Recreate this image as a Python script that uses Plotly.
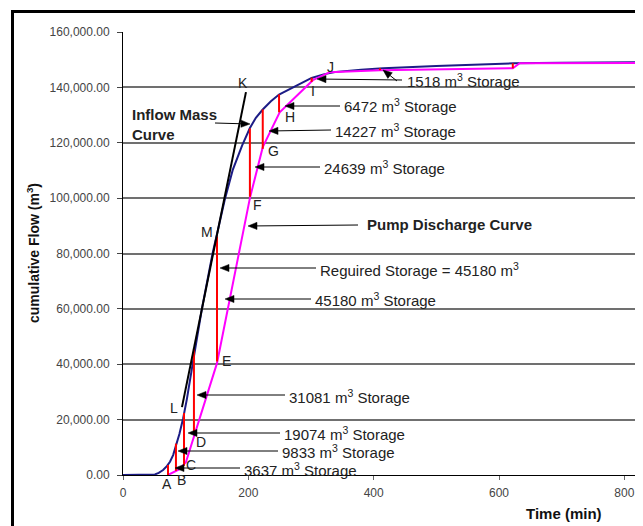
import math
import plotly.graph_objects as go

# ---------------- data ----------------
# Inflow mass curve (time min, cumulative flow m3)
inflow_t = [0, 45, 51, 57, 64, 70, 75, 80, 85, 90, 96, 102, 110, 125.5, 143, 150, 163, 175, 190,
            202.5, 212, 223, 236, 249, 262, 280, 301, 320, 340, 380, 415, 500, 623, 700, 817]
inflow_v = [0, 0, 200, 800, 1800, 3200, 4800, 7200, 10800, 14800, 20500, 27500, 38500, 59500,
            80100, 87000, 100000, 110100, 119000, 125300, 129000, 132000, 135000, 137400, 138900,
            141000, 143400, 144700, 145600, 146400, 146900, 147700, 148700, 148900, 149100]

# Pump discharge curve (piecewise linear)
pump_t = [71.8, 91, 100.5, 115, 150, 202.5, 223, 250, 303, 330, 410, 622, 633, 817]
pump_v = [0, 2200, 4700, 15200, 40400, 100000, 118400, 131000, 142600, 145500, 146200, 146900,
          148700, 148800]

# Storage (red vertical) segments: time, bottom on pump curve, storage volume
storage_t = [71.8, 84.5, 97.3, 113.2, 150, 202.5, 223, 249, 301]
storage_bottom = [0, 1500, 3300, 14500, 41000, 100500, 117800, 131000, 142000]
storage_vol = [3637, 9833, 19074, 31081, 45180, 24639, 14227, 6472, 1518]
minor_t = [410, 622]
minor_bottom = [146200, 146900]
minor_vol = [700, 1800]

# Tangent line K-L (required storage construction)
tangent_t = [94.1, 196.2]
tangent_v = [24500, 138300]

x_ticks = [0, 200, 400, 600, 800]
y_ticks = [0, 20000, 40000, 60000, 80000, 100000, 120000, 140000, 160000]

# ---------------- layout helpers ----------------
OFF = 8                      # page body margin of the html page
W, H = 643 - OFF, 526 - OFF
ML, MR, MT, MB = 123 - OFF, 8, 32 - OFF, 51
XMAX, YMAX = 817, 160000
PW, PH = W - ML - MR, H - MT - MB


def dx(px):  # reference-pixel x -> data x
    return (px - OFF - ML) / PW * XMAX


def dy(py):  # reference-pixel y -> data y
    return (H - MB - (py - OFF)) / PH * YMAX


def qx(px):  # reference-pixel x -> paper x
    return (px - OFF - ML) / PW


def qy(py):  # reference-pixel y -> paper y
    return (H - MB - (py - OFF)) / PH


FONT = "Liberation Sans, Arial, sans-serif"

fig = go.Figure()
fig.add_trace(go.Scatter(x=inflow_t, y=inflow_v, mode="lines",
                         line=dict(color="#1c1c86", width=2),
                         hoverinfo="skip", showlegend=False))
fig.add_trace(go.Scatter(x=pump_t, y=pump_v, mode="lines",
                         line=dict(color="#ff00ff", width=2),
                         hoverinfo="skip", showlegend=False))

rx, ry = [], []
for t, b, s in list(zip(storage_t, storage_bottom, storage_vol)) + list(zip(minor_t, minor_bottom, minor_vol)):
    rx += [t, t, None]
    ry += [b, b + s, None]
fig.add_trace(go.Scatter(x=rx, y=ry, mode="lines", line=dict(color="#ff0000", width=2),
                         hoverinfo="skip", showlegend=False))
fig.add_trace(go.Scatter(x=tangent_t, y=tangent_v, mode="lines", line=dict(color="black", width=2),
                         hoverinfo="skip", showlegend=False))

ann = []
# point letters
letters = [("K", 243, 83), ("L", 174, 408), ("M", 207, 232), ("A", 167, 484), ("B", 181, 480),
           ("C", 191, 465), ("D", 201, 442), ("E", 226, 361), ("F", 257, 205), ("G", 273, 151),
           ("H", 290, 117), ("I", 313, 91), ("J", 330, 67)]
for s, px, py in letters:
    ann.append(dict(xref="paper", yref="paper", x=qx(px), y=qy(py), text=s, showarrow=False,
                    xanchor="center", yanchor="middle",
                    font=dict(family=FONT, size=14, color="#222")))

SUP = "m<sup>3</sup>"
texts = [
    (f"1518 {SUP} Storage", 405, 80, False),
    (f"6472 {SUP} Storage", 342, 106, False),
    (f"14227 {SUP} Storage", 333, 130, False),
    (f"24639 {SUP} Storage", 322, 167, False),
    ("Pump Discharge Curve", 365, 225, True),
    (f"Reguired Storage = 45180 {SUP}", 318, 269, False),
    (f"45180 {SUP} Storage", 313, 299, False),
    (f"31081 {SUP} Storage", 287, 396, False),
    (f"19074 {SUP} Storage", 282, 433, False),
    (f"9833 {SUP} Storage", 280, 451, False),
    (f"3637 {SUP} Storage", 242, 469, False),
    ("Inflow Mass<br>Curve", 130, 124.5, True),
]
for s, px, py, bold in texts:
    ann.append(dict(xref="paper", yref="paper", x=qx(px), y=qy(py),
                    text=f"<b>{s}</b>" if bold else s, showarrow=False,
                    xanchor="left", yanchor="middle", align="left",
                    font=dict(family=FONT, size=15, color="#222")))

# arrows: (tail px, head px) in reference pixels
arrows = [
    ((402, 80), (317, 79)), ((397, 81), (383, 70)), ((340, 106), (285, 106)),
    ((331, 130), (269, 131)), ((320, 167), (255, 167)), ((358, 225), (248, 226)),
    ((316, 268), (220, 268)), ((311, 299), (225, 299)), ((285, 395), (197, 395)),
    ((280, 433), (188, 433)), ((278, 451), (178, 451)), ((240, 468), (175, 468)),
    ((215, 123), (250, 124)),
]
shapes = []
HEAD_L, HEAD_W = 9.0, 3.6
for (tx, ty), (hx, hy) in arrows:
    L = math.hypot(hx - tx, hy - ty)
    ux, uy = (hx - tx) / L, (hy - ty) / L
    bx, by = hx - HEAD_L * ux, hy - HEAD_L * uy
    px_, py_ = -uy * HEAD_W, ux * HEAD_W
    shapes.append(dict(type="line", xref="x", yref="y", x0=dx(tx), y0=dy(ty), x1=dx(bx), y1=dy(by),
                       line=dict(color="black", width=1)))
    path = (f"M {dx(hx)},{dy(hy)} L {dx(bx + px_)},{dy(by + py_)} "
            f"L {dx(bx - px_)},{dy(by - py_)} Z")
    shapes.append(dict(type="path", xref="x", yref="y", path=path, fillcolor="black",
                       line=dict(color="black", width=0.5)))

# outer frame
shapes.append(dict(type="rect", xref="paper", yref="paper",
                   x0=qx(12.5), x1=qx(638), y0=qy(540), y1=qy(11.5),
                   line=dict(color="black", width=3), fillcolor="rgba(0,0,0,0)"))

# axis titles
ann.append(dict(xref="paper", yref="paper", x=qx(33), y=qy(253),
                text="<b>cumulative Flow (m<sup>3</sup>)</b>", textangle=-90,
                showarrow=False, xanchor="center", yanchor="middle",
                font=dict(family=FONT, size=14, color="#111")))
ann.append(dict(xref="paper", yref="paper", x=qx(524), y=qy(513), text="<b>Time (min)</b>",
                showarrow=False, xanchor="left", yanchor="middle",
                font=dict(family=FONT, size=15, color="#111")))

fig.update_layout(
    width=W, height=H, margin=dict(l=ML, r=MR, t=MT, b=MB),
    paper_bgcolor="white", plot_bgcolor="white",
    annotations=ann, shapes=shapes,
    xaxis=dict(range=[0, XMAX], tickvals=x_ticks, ticktext=[str(v) for v in x_ticks],
               showgrid=False, zeroline=False, showline=True, linecolor="black", linewidth=1,
               ticks="outside", ticklen=4, tickcolor="#666", ticklabelstandoff=3,
               tickfont=dict(family=FONT, size=12, color="#444")),
    yaxis=dict(range=[0, YMAX], tickvals=y_ticks, tickformat=",.2f",
               showgrid=True, gridcolor="#707070", gridwidth=1.5, zeroline=False,
               showline=True, linecolor="black", linewidth=1,
               ticks="outside", ticklen=5, tickcolor="#444", ticklabelstandoff=5,
               tickfont=dict(family=FONT, size=12, color="#444")),
)

fig.write_html("out.html")
